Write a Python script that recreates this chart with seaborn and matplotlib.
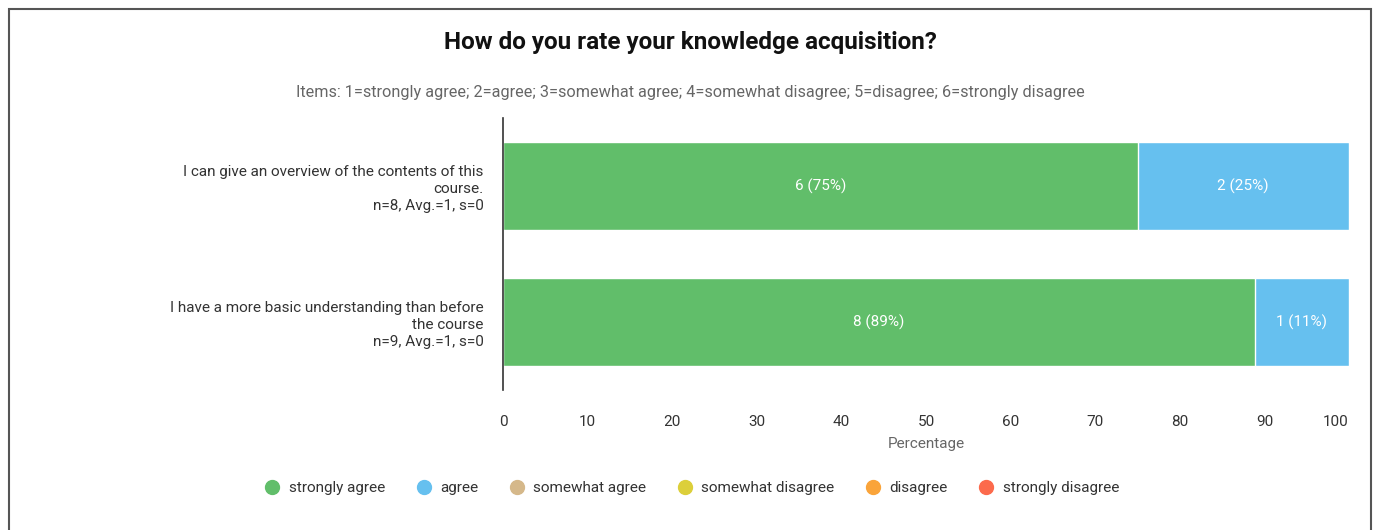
import matplotlib
matplotlib.use("Agg")
import matplotlib.pyplot as plt
from matplotlib.patches import Rectangle
from matplotlib.lines import Line2D
import seaborn as sns
import pandas as pd

# Survey items and answer counts per rating level
items = [
    "I can give an overview of the contents of this\ncourse.\nn=8, Avg.=1, s=0",
    "I have a more basic understanding than before\nthe course\nn=9, Avg.=1, s=0",
]
strongly_agree = [6, 8]
agree = [2, 1]
somewhat_agree = [0, 0]
somewhat_disagree = [0, 0]
disagree = [0, 0]
strongly_disagree = [0, 0]

levels = ["strongly agree", "agree", "somewhat agree",
          "somewhat disagree", "disagree", "strongly disagree"]
colors = ["#61be6a", "#66c0ef", "#d5b88a", "#dccf3a", "#faa43a", "#fc6a4c"]
xticks = [0, 10, 20, 30, 40, 50, 60, 70, 80, 90, 100]

counts = [strongly_agree, agree, somewhat_agree,
          somewhat_disagree, disagree, strongly_disagree]

sns.set_theme(style="white")
plt.rcParams["font.family"] = ["Roboto", "DejaVu Sans"]

fig = plt.figure(figsize=(13.75, 5.3), dpi=100)
ax = fig.add_axes([503 / 1375, 1 - 390 / 530, 846 / 1375, 272 / 530])

totals = [sum(c[i] for c in counts) for i in range(len(items))]
pct = [[100 * c[i] / totals[i] for i in range(len(items))] for c in counts]

# cumulative right edges, drawn from the outermost segment inwards
cum = []
run = [0.0] * len(items)
for p in pct:
    run = [r + v for r, v in zip(run, p)]
    cum.append(list(run))

for k in range(len(levels) - 1, -1, -1):
    if all(v == 0 for v in pct[k]):
        continue
    df = pd.DataFrame({"item": items, "value": cum[k]})
    sns.barplot(data=df, x="value", y="item", orient="h", color=colors[k],
                width=0.64, edgecolor="white", linewidth=1.0, saturation=1,
                ax=ax)

# value labels centred in each segment
for k, p in enumerate(pct):
    for i in range(len(items)):
        if p[i] == 0:
            continue
        start = cum[k][i] - p[i]
        ax.text(start + p[i] / 2, i, f"{counts[k][i]} ({round(p[i])}%)",
                ha="center", va="center", color="white", fontsize=11)

ax.set_xlim(0, 100)
ax.set_ylim(1.5, -0.5)
ax.set_xticks(xticks)
ax.set_xticklabels([str(t) for t in xticks], fontsize=11, color="#333333")
ax.get_xticklabels()[-1].set_horizontalalignment("right")
ax.tick_params(axis="x", length=0, pad=18)
ax.tick_params(axis="y", length=0, pad=14)
for lab in ax.get_yticklabels():
    lab.set_fontsize(11)
    lab.set_color("#333333")
    lab.set_multialignment("right")
    lab.set_linespacing(1.3)
ax.set_ylabel("")
ax.set_xlabel("Percentage", fontsize=11, color="#666666", labelpad=6)
for s in ["top", "right", "bottom"]:
    ax.spines[s].set_visible(False)
ax.spines["left"].set_color("#333333")
ax.spines["left"].set_linewidth(1.2)

fig.text(690 / 1375, 1 - 43 / 530, "How do you rate your knowledge acquisition?",
         ha="center", va="center", fontsize=17.5, fontweight="bold", color="#111111")
fig.text(690 / 1375, 1 - 92 / 530,
         "Items: 1=strongly agree; 2=agree; 3=somewhat agree; 4=somewhat disagree; 5=disagree; 6=strongly disagree",
         ha="center", va="center", fontsize=11.7, color="#666666")

handles = [Line2D([], [], marker="o", linestyle="", markersize=10,
                  markerfacecolor=c, markeredgecolor=c) for c in colors]
fig.legend(handles, levels, loc="center", bbox_to_anchor=(690 / 1375, 1 - 488 / 530),
           ncol=6, frameon=False, fontsize=11, handletextpad=0.35,
           handlelength=1.5, columnspacing=1.75, labelcolor="#333333")

fig.patches.append(Rectangle((9 / 1375, -0.05), 1362 / 1375, 1.05 - 9 / 530,
                             transform=fig.transFigure, fill=False,
                             edgecolor="#555555", linewidth=1.5))

fig.savefig("out.png", dpi=100)
